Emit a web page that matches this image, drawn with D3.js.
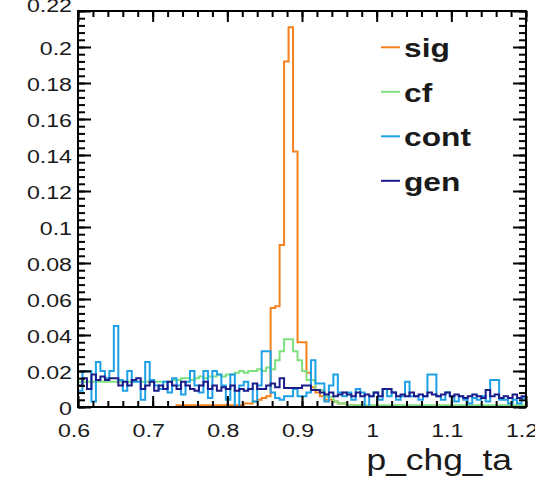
<!DOCTYPE html>
<html><head><meta charset="utf-8">
<script src="https://cdn.jsdelivr.net/npm/d3@7/dist/d3.min.js"></script>
<style>body{margin:0;background:#fff}svg{display:block}</style>
</head><body>
<svg id="chart" width="535" height="481"></svg>
<script>
// Histogram range and binning of p_chg_ta
const xMin = 0.6, xMax = 1.2, nBins = 100;

// Normalised bin contents, one value per bin (100 bins)
const sig = [0,0,0,0,0,0,0,0,0,0, 0,0,0,0,0,0,0,0,0,0,
  0,0,0.001,0.001,0.001,0.001,0.001,0.001,0.001,0.001,
  0.001,0.001,0.001,0.001,0.001,0.001,0.001,0.002,0.002,0.003,
  0.004,0.005,0.006,0.055,0.056,0.09,0.192,0.211,0.142,0.036,
  0.036,0.019,0.011,0.008,0.006,0.004,0.004,0.003,0.002,0.002,
  0.001,0.001,0.001,0,0,0,0,0,0,0, 0,0,0,0,0,0,0,0,0,0,
  0,0,0,0,0,0,0,0,0,0, 0,0,0,0,0,0,0,0,0,0];
const cf = [0.014,0.014,0.014,0.014,0.014,0.014,0.014,0.014,0.014,0.014,
  0.014,0.014,0.014,0.014,0.014,0.014,0.014,0.014,0.014,0.014,
  0.014,0.015,0.015,0.016,0.016,0.015,0.016,0.017,0.016,0.017,
  0.017,0.018,0.017,0.018,0.018,0.019,0.02,0.019,0.02,0.02,
  0.021,0.02,0.022,0.021,0.026,0.031,0.0376,0.0376,0.031,0.026,
  0.02,0.015,0.015,0.0094,0.0094,0.0057,0.0057,0.003,0.002,0.002,
  0.001,0.001,0.001,0.001,0.001,0.001,0.001,0.001,0.001,0.001,
  0.001,0.001,0.001,0.001,0.001,0.001,0.001,0.001,0.001,0.001,
  0.001,0.001,0.001,0.001,0.001,0.001,0.001,0.001,0.001,0.001,
  0.001,0.001,0.001,0.001,0.001,0.001,0.001,0.001,0.001,0.001];
const cont = [0.009,0.02,0.02,0.003,0.025,0.02,0.016,0.02,0.045,0.015,
  0.009,0.02,0.014,0.014,0.004,0.025,0.015,0.012,0.01,0.014,
  0.008,0.016,0.012,0.007,0.014,0.02,0.012,0.008,0.02,0.005,
  0.02,0.018,0.012,0.004,0.018,0.0,0.012,0.014,0.01,0.003,
  0.012,0.031,0.031,0.008,0.005,0.004,0.006,0.006,0.01,0.006,
  0.006,0.008,0.026,0.013,0.013,0.003,0.012,0.018,0.008,0.006,
  0.008,0.004,0.01,0.008,0.0,0.006,0.008,0.004,0.01,0.006,
  0.008,0.004,0.006,0.014,0.006,0.006,0.004,0.006,0.018,0.018,
  0.006,0.004,0.008,0.006,0.003,0.006,0.004,0.002,0.005,0.004,
  0.006,0.003,0.015,0.015,0.004,0.004,0.002,0.004,0.002,0.005];
const gen = [0.012,0.016,0.01,0.018,0.015,0.017,0.015,0.016,0.016,0.012,
  0.014,0.012,0.015,0.016,0.01,0.012,0.014,0.009,0.012,0.01,
  0.014,0.012,0.01,0.014,0.012,0.01,0.009,0.012,0.014,0.01,
  0.012,0.009,0.011,0.01,0.012,0.009,0.01,0.009,0.01,0.013,
  0.01,0.01,0.012,0.013,0.011,0.016,0.0105,0.0105,0.0105,0.0105,
  0.012,0.012,0.0094,0.0094,0.008,0.007,0.008,0.006,0.007,0.008,
  0.007,0.006,0.008,0.006,0.007,0.006,0.008,0.006,0.01,0.01,
  0.008,0.006,0.007,0.006,0.008,0.006,0.007,0.006,0.008,0.007,
  0.006,0.007,0.008,0.006,0.007,0.006,0.005,0.006,0.007,0.006,
  0.005,0.0094,0.006,0.007,0.005,0.006,0.005,0.007,0.005,0.006];

const seriesNames = ["sig", "cf", "cont", "gen"];
const seriesColors = ["#f5821f", "#7fe07f", "#1ea0e6", "#1c1c8a"];

const yMax = 0.22;
const yTickValues = [0, 0.02, 0.04, 0.06, 0.08, 0.1, 0.12, 0.14, 0.16, 0.18, 0.2, 0.22];
const yTickLabels = ["0", "0.02", "0.04", "0.06", "0.08", "0.1", "0.12", "0.14", "0.16", "0.18", "0.2", "0.22"];
const xTickValues = [0.6, 0.7, 0.8, 0.9, 1.0, 1.1, 1.2];
const xTickLabels = ["0.6", "0.7", "0.8", "0.9", "1", "1.1", "1.2"];
const xTitle = "p_chg_ta";

// Frame geometry
const frame = {left: 78, right: 526, top: 11, bottom: 407};
const stretch = 1.22; // glyphs are drawn wider than tall

const svg = d3.select("#chart");
const x = d3.scaleLinear().domain([xMin, xMax]).range([frame.left, frame.right]);
const y = d3.scaleLinear().domain([0, yMax]).range([frame.bottom, frame.top]);
const binWidth = (xMax - xMin) / nBins;
const edges = d3.range(nBins + 1).map(i => xMin + i * binWidth);

svg.append("defs").append("clipPath").attr("id", "frameClip")
  .append("rect").attr("x", frame.left).attr("y", frame.top - 2)
  .attr("width", frame.right - frame.left).attr("height", frame.bottom - frame.top + 2);

// Step outline of a histogram
function stepPath(vals) {
  const p = d3.path();
  p.moveTo(x(edges[0]), y(0));
  vals.forEach((v, i) => {
    p.lineTo(x(edges[i]), y(v));
    p.lineTo(x(edges[i + 1]), y(v));
  });
  p.lineTo(x(edges[nBins]), y(0));
  return p.toString();
}

const seriesData = [sig, cf, cont, gen];
const plot = svg.append("g").attr("clip-path", "url(#frameClip)");
seriesData.forEach((vals, k) => {
  plot.append("path").attr("d", stepPath(vals))
    .attr("fill", "none").attr("stroke", seriesColors[k])
    .attr("stroke-width", 2).attr("stroke-linejoin", "miter");
});

// Axes with inward ticks on all four sides
const minorY = d3.range(0, yMax + 1e-9, 0.004);
const minorX = d3.range(xMin, xMax + 1e-9, 0.02);

function tickSet(axisGen, scale, values, size, transform) {
  const g = svg.append("g").attr("transform", transform)
    .call(axisGen(scale).tickValues(values).tickSize(size).tickFormat(""));
  g.select(".domain").remove();
  g.selectAll("line").attr("stroke", "#000").attr("stroke-width", 2);
  return g;
}
// left / right
tickSet(d3.axisRight, y, minorY, 7, `translate(${frame.left},0)`);
tickSet(d3.axisRight, y, yTickValues, 13, `translate(${frame.left},0)`);
tickSet(d3.axisLeft, y, minorY, 7, `translate(${frame.right},0)`);
tickSet(d3.axisLeft, y, yTickValues, 13, `translate(${frame.right},0)`);
// bottom / top
tickSet(d3.axisTop, x, minorX, 6, `translate(0,${frame.bottom})`);
tickSet(d3.axisTop, x, xTickValues, 11, `translate(0,${frame.bottom})`);
tickSet(d3.axisBottom, x, minorX, 6, `translate(0,${frame.top})`);
tickSet(d3.axisBottom, x, xTickValues, 11, `translate(0,${frame.top})`);

svg.append("rect").attr("x", frame.left).attr("y", frame.top)
  .attr("width", frame.right - frame.left).attr("height", frame.bottom - frame.top)
  .attr("fill", "none").attr("stroke", "#000").attr("stroke-width", 2);

const font = "'Liberation Sans', Arial, Helvetica, sans-serif";
function stretchedText(px, py, txt, size, anchor, weight) {
  svg.append("text")
    .attr("transform", `translate(${px},${py}) scale(${stretch},1)`)
    .attr("text-anchor", anchor).attr("font-family", font)
    .attr("font-size", size).attr("font-weight", weight || "normal")
    .attr("fill", "#1a1a1a").text(txt);
}

// Y tick labels (the topmost one sits against the upper edge)
yTickValues.forEach((v, i) => {
  const base = i === yTickValues.length - 1 ? 12 : y(v) + 8;
  stretchedText(frame.left - 6, base, yTickLabels[i], 19, "end");
});
// X tick labels
xTickValues.forEach((v, i) => {
  stretchedText(x(v) - 4, 437, xTickLabels[i], 19, "middle");
});
// X title
stretchedText(512, 470, xTitle, 29, "end");

// Legend
const legendTop = 47.3, legendStep = 44.5;
seriesNames.forEach((name, k) => {
  const ly = legendTop + k * legendStep;
  svg.append("line").attr("x1", 381).attr("x2", 400).attr("y1", ly).attr("y2", ly)
    .attr("stroke", seriesColors[k]).attr("stroke-width", 2);
  stretchedText(404, ly + 10, name, 26, "start", "bold");
});
</script>
</body></html>
